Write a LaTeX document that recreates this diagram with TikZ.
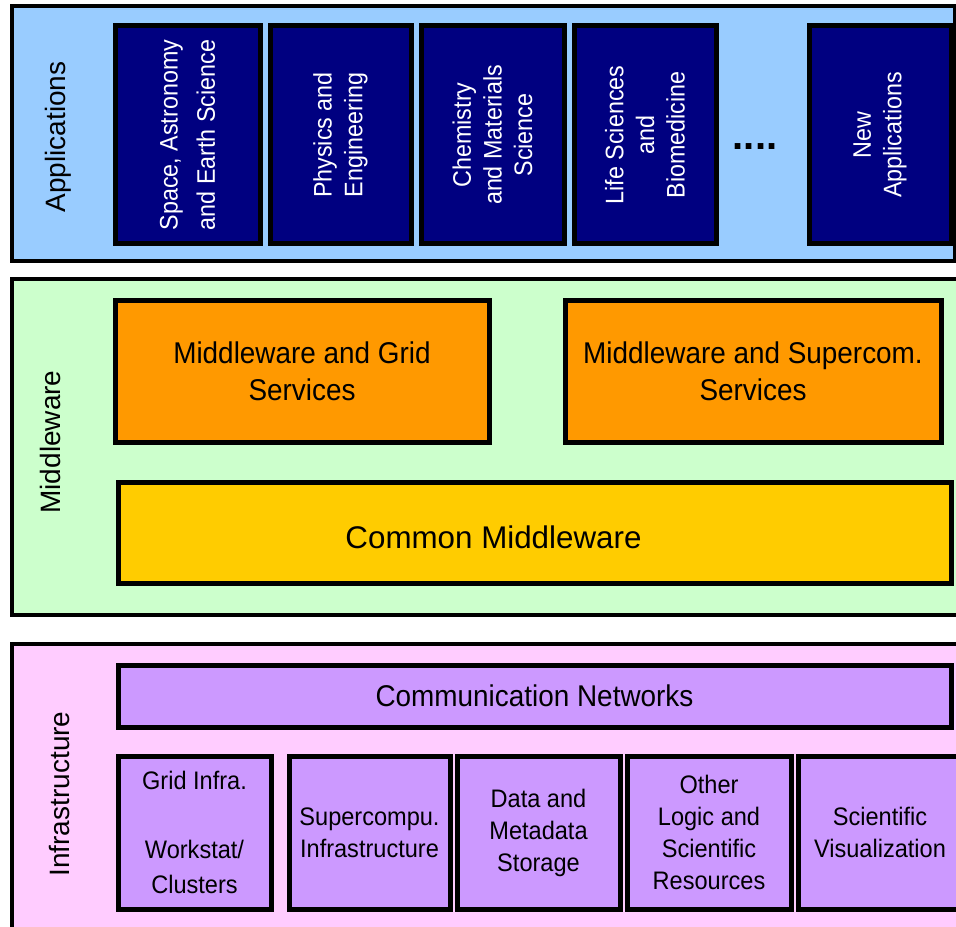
\documentclass[tikz,border=0pt]{standalone}
\usepackage{fontspec}
\setmainfont{Liberation Sans}
\newfontfamily\narrowsf[FakeStretch=0.92]{Liberation Sans}
\newfontfamily\semisf[FakeStretch=0.93]{Liberation Sans}
\definecolor{appbg}{HTML}{99CCFF}
\definecolor{appnavy}{HTML}{000080}
\definecolor{midbg}{HTML}{CCFFCC}
\definecolor{midorange}{HTML}{FF9900}
\definecolor{midyellow}{HTML}{FFCC00}
\definecolor{infbg}{HTML}{FFCCFF}
\definecolor{infpurple}{HTML}{CC99FF}

\begin{document}
\begin{tikzpicture}[x=0.75pt,y=-0.75pt,
        boxsize/.style 2 args={minimum width=#1*0.75pt, minimum height=#2*0.75pt},
        layer/.style={draw, line width=3pt, inner sep=0pt},
        side label/.style={rotate=90, inner sep=0pt, font=\fontsize{21}{24}\selectfont},
        app node/.style={draw, line width=3.75pt, fill=appnavy, text=white, rotate=90,
            align=center, inner sep=0pt, font=\narrowsf\fontsize{19}{23}\selectfont},
        mid node/.style={draw, line width=3.75pt, fill=midorange, align=center,
            inner sep=0pt, font=\semisf\fontsize{22.5}{27.75}\selectfont},
        inf node/.style={draw, line width=3.75pt, fill=infpurple, align=center,
            inner sep=0pt, font=\semisf\fontsize{19}{24}\selectfont}]

\useasboundingbox (0,0) rectangle (956,927);

\node[layer, fill=appbg, boxsize={943}{255}] (apps) at (483.5,133.5) {};
\node[layer, fill=midbg, boxsize={950}{336}] (mid) at (487,447) {};
\node[layer, fill=infbg, boxsize={950}{296}] (inf) at (487,792) {};

\node[side label] (appslabel) at (58.5,137) {Applications};
\node[side label] (midlabel) at (50,442) {Middleware};
\node[side label] (inflabel) at (59.5,794) {Infrastructure};

\node[app node, boxsize={218}{145}] (a1) at (187.5,135) {Space, Astronomy\\[5pt]and Earth Science};
\node[app node, boxsize={218}{141}] (a2) at (340.5,135) {Physics and\\Engineering};
\node[app node, boxsize={218}{143}] (a3) at (492.5,135) {Chemistry\\and Materials\\Science};
\node[app node, boxsize={218}{142}] (a4) at (645,135) {Life Sciences\\and\\Biomedicine};
\node[font=\bfseries\fontsize{30}{30}\selectfont, inner sep=0pt] (dots) at (755,147) {....};
\node[app node, boxsize={218}{142}] (a5) at (880,135) {New\\Applications};

\node[mid node, boxsize={374}{142}] (m1) at (302,371) {Middleware and Grid\\Services};
\node[mid node, boxsize={376}{142}] (m2) at (753,371) {Middleware and Supercom.\\Services};
\node[mid node, fill=midyellow, boxsize={833}{101}] (m3) at (534.5,532.5) {};
\node[inner sep=0pt, font=\fontsize{23.5}{26}\selectfont] (m3text) at (493.5,537) {Common Middleware};

\node[inf node, boxsize={833}{62}, font=\semisf\fontsize{22.5}{26}\selectfont] (net) at (534.5,696) {Communication Networks};
\node[inf node, boxsize={153}{153}] (i1) at (194.5,832.5) {Grid Infra.\\[2pt]\mbox{}\\[2pt]Workstat/\\[2pt]Clusters};
\node[inf node, boxsize={161}{153}] (i2) at (369.5,832.5) {Supercompu.\\Infrastructure};
\node[inf node, boxsize={163}{153}] (i3) at (538.5,832.5) {Data and\\Metadata\\Storage};
\node[inf node, boxsize={164}{153}] (i4) at (709,832.5) {Other\\Logic and\\Scientific\\Resources};
\node[inf node, boxsize={164}{153}] (i5) at (880,832.5) {Scientific\\Visualization};

\end{tikzpicture}
\end{document}
